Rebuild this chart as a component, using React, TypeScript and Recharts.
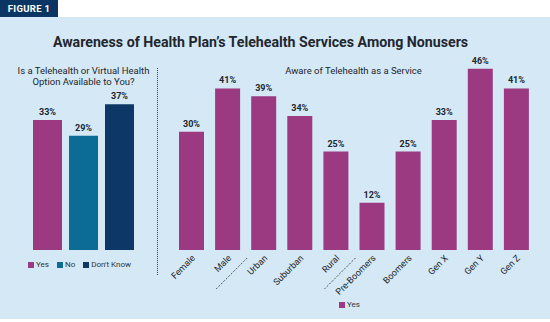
import { Bar, BarChart, Cell, LabelList, XAxis, YAxis } from "recharts";

const availKeys = ["yes", "no", "dk"];
const availNames = ["Yes", "No", "Don't Know"];
const availValues = [33, 29, 37];
const availColors = ["#9b3a80", "#0c6c96", "#0d3766"];

const awareCategories = [
  "Female",
  "Male",
  "Urban",
  "Suburban",
  "Rural",
  "Pre-Boomers",
  "Boomers",
  "Gen X",
  "Gen Y",
  "Gen Z",
];
const awareValues = [30, 41, 39, 34, 25, 12, 25, 33, 46, 41];
const separatorAfter = ["Male", "Rural"];

const FONT = "Roboto, 'Open Sans', sans-serif";
const MAGENTA = "#9b3a80";
const INK = "#22262e";

const availRow = [
  availKeys.reduce((row, k, i) => ({ ...row, [k]: availValues[i] }), { name: "avail" } as Record<string, string | number>),
];
const awareData = awareCategories.map((name, i) => ({ name, yes: awareValues[i] }));

const pct = (v: unknown) => `${v}%`;

function AngledTick(props: any) {
  const { x, y, payload } = props;
  const sep = separatorAfter.includes(payload.value);
  return (
    <g transform={`translate(${x},${y})`}>
      <text
        x={3}
        y={3}
        transform="rotate(-45 3 3)"
        textAnchor="end"
        dominantBaseline="middle"
        fontSize={9}
        fill={INK}
        fontFamily={FONT}
      >
        {payload.value}
      </text>
      {sep && (
        <line x1={20} y1={4} x2={-11} y2={35} stroke="#444" strokeWidth={0.9} strokeDasharray="2 1.5" />
      )}
    </g>
  );
}

function LegendItem({ color, label }: { color: string; label: string }) {
  return (
    <span style={{ display: "inline-flex", alignItems: "center", marginRight: 8 }}>
      <span style={{ width: 6, height: 6, background: color, marginRight: 2, display: "inline-block" }} />
      <span>{label}</span>
    </span>
  );
}

export default function App() {
  return (
    <div
      style={{
        position: "relative",
        width: 550,
        height: 322,
        background: "#ffffff",
        fontFamily: FONT,
        overflow: "hidden",
      }}
    >
      <style>{`body{margin:0}`}</style>
      <div
        style={{
          position: "absolute",
          left: 0,
          top: 0,
          width: 58,
          height: 17,
          background: "#0b3663",
          color: "#fff",
          fontSize: 9.5,
          fontWeight: 700,
          lineHeight: "17px",
          textAlign: "center",
          letterSpacing: 0.3,
        }}
      >
        FIGURE 1
      </div>
      <div style={{ position: "absolute", left: 0, top: 17, width: 550, height: 302, background: "#d4e9f5" }} />

      <div
        style={{
          position: "absolute",
          left: 0,
          top: 34,
          width: 521,
          textAlign: "center",
          fontSize: 14.2,
          fontWeight: 700,
          color: INK,
        }}
      >
        Awareness of Health Plan’s Telehealth Services Among Nonusers
      </div>

      <div
        style={{
          position: "absolute",
          left: 0,
          top: 65,
          width: 167,
          textAlign: "center",
          fontSize: 9.5,
          lineHeight: "11px",
          color: INK,
        }}
      >
        Is a Telehealth or Virtual Health
        <br />
        Option Available to You?
      </div>
      <div
        style={{
          position: "absolute",
          left: 173,
          top: 65,
          width: 361,
          textAlign: "center",
          fontSize: 9.5,
          lineHeight: "11px",
          color: INK,
        }}
      >
        Aware of Telehealth as a Service
      </div>

      <div
        style={{
          position: "absolute",
          left: 157,
          top: 68,
          height: 207,
          borderLeft: "1.3px dotted #3a3f48",
        }}
      />

      <div style={{ position: "absolute", left: 0, top: 0 }}>
        <BarChart width={167} height={290} data={availRow} margin={{ top: 53, right: 0, bottom: 40, left: 0 }} barSize={29} barGap={7}>
          <XAxis dataKey="name" hide />
          <YAxis hide domain={[0, 50]} />
          {availKeys.map((k, i) => (
            <Bar key={k} dataKey={k} name={availNames[i]} fill={availColors[i]} isAnimationActive={false}>
              <LabelList dataKey={k} position="top" offset={5} formatter={pct} fontSize={9} fontWeight={700} fill={INK} fontFamily={FONT} />
            </Bar>
          ))}
        </BarChart>
      </div>

      <div style={{ position: "absolute", left: 0, top: 0 }}>
        <BarChart width={550} height={322} data={awareData} margin={{ top: 53, right: 16, bottom: 22, left: 173 }} barSize={25}>
          <XAxis
            dataKey="name"
            axisLine={false}
            tickLine={false}
            tickSize={0}
            tickMargin={4}
            height={50}
            interval={0}
            tick={<AngledTick />}
          />
          <YAxis hide domain={[0, 50]} />
          <Bar dataKey="yes" name="Yes" fill={MAGENTA} isAnimationActive={false}>
            {awareData.map((d) => (
              <Cell key={d.name} fill={MAGENTA} />
            ))}
            <LabelList dataKey="yes" position="top" offset={5} formatter={pct} fontSize={9} fontWeight={700} fill={INK} fontFamily={FONT} />
          </Bar>
        </BarChart>
      </div>

      <div style={{ position: "absolute", left: 0, top: 260, width: 167, textAlign: "center", fontSize: 8, color: "#333" }}>
        {availNames.map((n, i) => (
          <LegendItem key={n} color={availColors[i]} label={n} />
        ))}
      </div>
      <div style={{ position: "absolute", left: 173, top: 300, width: 361, textAlign: "center", fontSize: 8, color: "#333" }}>
        <LegendItem color={MAGENTA} label="Yes" />
      </div>
    </div>
  );
}
